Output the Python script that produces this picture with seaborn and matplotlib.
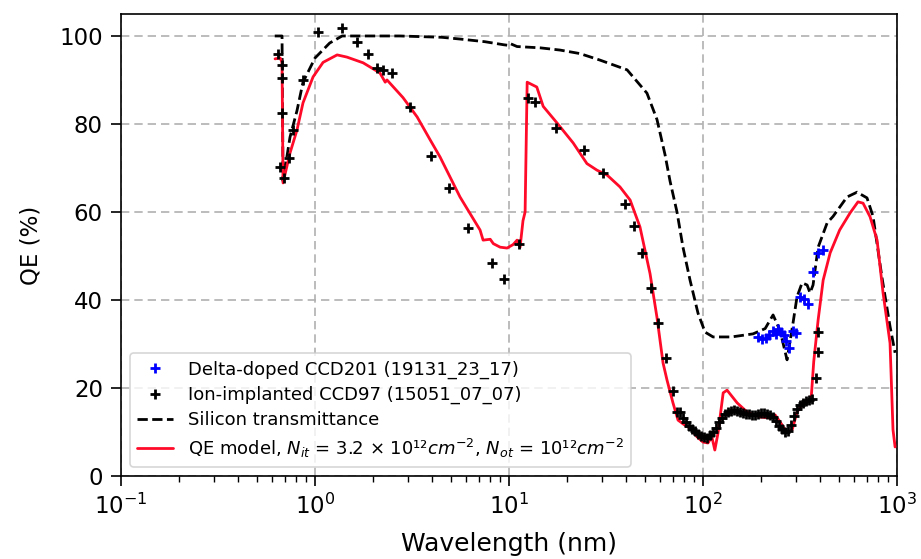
import numpy as np
import pandas as pd
import matplotlib
matplotlib.use("Agg")
import matplotlib.pyplot as plt
import seaborn as sns
from matplotlib.lines import Line2D

# ---------------- data ----------------
# Silicon transmittance (dashed)
si_wl = [0.62, 0.676, 0.684, 0.743, 0.807, 0.867, 1.0, 1.19, 1.38, 2.74, 4.5, 5.6, 7.5,
         9.4, 9.8, 10.1, 11.0, 14.5, 18.3, 23.2, 29.5, 40.6, 51.4, 57.9, 63.7, 67.6, 73.4,
         78.8, 85.7, 94.2, 102.4, 112.6, 140, 181, 209, 229.6, 249.5, 271, 291, 305, 324,
         344, 356, 369, 392, 436, 468, 552, 622, 700, 752, 837, 920, 977]
si_qe = [100, 100, 67, 77, 83, 89.5, 95, 98.4, 100, 100, 99.7, 99.3, 98.7,
         98.0, 97.9, 98.3, 97.6, 97.3, 96.8, 96.0, 94.5, 92.3, 87, 81, 73, 67, 60,
         52, 44.5, 37, 32.7, 31.6, 31.6, 32.3, 33.5, 36.6, 33, 26.4, 34.8, 40.7, 43.9,
         43.4, 41.6, 43.4, 52, 57.5, 59, 63.4, 64.5, 63.2, 59, 45, 34, 28]

# QE model (red)
model_wl = [0.622, 0.661, 0.676, 0.684, 0.743, 0.807, 0.867, 0.977, 1.10, 1.30, 1.46, 1.77,
            2.16, 2.30, 2.35, 2.84, 3.36, 3.92, 4.41, 5.59, 7.09, 7.35, 8.0, 8.3, 9.0, 9.77,
            10.5, 11.0, 11.4, 11.8, 12.1, 12.4, 13.9, 15.0, 17.7, 21.4, 25.2, 28.4, 32.0,
            37.3, 42.1, 47.3, 53.3, 57.9, 62.2, 65.2, 70.0, 74.3, 80.8, 85.7, 93.1, 100,
            106, 111, 115, 119.5, 127, 133, 150, 169, 197, 221, 235, 249.5, 271, 288, 305,
            328, 356, 362, 372, 392, 416, 452, 506, 573, 629, 668, 726, 789, 847, 920, 953, 977]
model_qe = [94.8, 95.0, 94.0, 66.6, 73.4, 78.6, 84.8, 90.7, 94.0, 95.7, 95.2, 93.9,
            91.6, 89.5, 90.0, 86.0, 81.6, 76.4, 72.5, 63.4, 55.9, 53.6, 53.8, 52.8, 52.0, 51.8,
            52.6, 53.6, 52.0, 58.0, 60.0, 89.5, 88.4, 84.0, 80.2, 75.7, 71.0, 69.5, 68.4,
            65.7, 62.7, 56.6, 46.0, 36.0, 25.7, 21.8, 16.6, 12.7, 11.5, 10.9, 8.9, 7.7,
            7.5, 8.9, 5.9, 9.8, 18.9, 19.5, 16.6, 14.5, 13.4, 13.2, 13.9, 12.3, 9.8, 10.5, 14.5,
            16.6, 17.3, 18.5, 26.0, 35.5, 44.5, 50.7, 55.9, 59.8, 62.3, 62.0, 58.9, 53.6, 41.6, 30.2, 10.5, 6.6]

# Ion-implanted CCD97 (black +)
ion_wl = [0.645, 0.676, 0.676, 0.676, 0.660, 0.692, 0.735, 0.770, 0.867, 1.036, 1.378, 1.646,
          1.876, 2.087, 2.241, 2.494, 3.088, 3.963, 4.907, 6.147, 8.172, 9.424, 11.26, 12.53,
          13.61, 17.47, 24.36, 30.51, 39.63, 44.10, 48.50, 53.95, 58.62, 64.46, 70.04, 73.45,
          76.1, 78.9, 81.7, 84.7, 87.8, 90.9, 94.2, 97.7, 101.2, 104.9, 108.7, 112.6, 116.7,
          120.9, 125.3, 129.8, 134.6, 139.4, 144.5, 149.7, 155.1, 160.8, 166.6, 172.6, 178.9,
          185.3, 192.0, 199.1, 206.2, 213.7, 221.5, 229.5, 237.8, 246.5, 255.4, 264.6, 274.2,
          284.1, 294.5, 305.1, 316.2, 327.7, 339.5, 351.9, 364.6, 380.0, 391.4, 391.4]
ion_qe = [96.0, 93.4, 90.5, 82.5, 70.2, 67.7, 72.3, 78.6, 90.0, 100.9, 101.8, 98.6,
          96.0, 92.7, 92.3, 91.6, 83.9, 72.7, 65.5, 56.4, 48.4, 44.8, 52.7, 85.9,
          85.0, 79.0, 74.0, 68.9, 61.8, 56.8, 50.7, 42.7, 34.8, 26.8, 19.3, 14.5,
          14.5, 13.2, 12.3, 11.4, 10.7, 10.2, 9.6, 9.1, 8.9, 8.6, 9.3, 10.0, 11.0,
          12.3, 13.2, 14.1, 14.5, 14.8, 15.0, 14.8, 14.5, 14.3, 14.1, 14.1, 13.9,
          13.9, 14.1, 14.3, 14.3, 14.1, 13.9, 13.4, 12.5, 11.4, 10.7, 10.0, 10.2,
          11.6, 13.6, 15.2, 16.1, 16.6, 17.0, 17.3, 17.5, 22.3, 28.2, 32.7]

# Delta-doped CCD201 (blue +)
dd_wl = [192.0, 201.4, 211.2, 218.9, 229.5, 237.8, 243.6, 252.4, 261.5, 267.8, 277.5,
         291.0, 301.6, 316.2, 331.6, 347.7, 369.0, 391.4, 415.6]
dd_qe = [31.6, 31.1, 31.4, 32.0, 33.0, 32.3, 33.4, 32.7, 32.0, 30.7, 29.1,
         33.0, 32.5, 40.7, 40.2, 39.2, 46.4, 50.7, 51.4]

labels = ["Delta-doped CCD201 (19131_23_17)",
          "Ion-implanted CCD97 (15051_07_07)",
          "Silicon transmittance",
          r"QE model, $N_{it}$ = 3.2 × 10¹²$cm^{-2}$, $N_{ot}$ = 10¹²$cm^{-2}$"]

RED = "#ff0a28"

# ---------------- plot ----------------
sns.set_style("white")
plt.rcParams["font.family"] = ["DejaVu Sans"]
plt.rcParams["text.color"] = "black"
plt.rcParams["axes.labelcolor"] = "black"
plt.rcParams["xtick.color"] = "black"
plt.rcParams["ytick.color"] = "black"

fig = plt.figure(figsize=(9.21, 5.59), dpi=100)
ax = fig.add_axes([0.1314, 0.1485, 0.8426, 0.8265])

si_df = pd.DataFrame({"wl": si_wl, "qe": si_qe})
mo_df = pd.DataFrame({"wl": model_wl, "qe": model_qe})
ion_df = pd.DataFrame({"wl": ion_wl, "qe": ion_qe})
dd_df = pd.DataFrame({"wl": dd_wl, "qe": dd_qe})

sns.lineplot(data=si_df, x="wl", y="qe", ax=ax, sort=False, color="black",
             linestyle="--", linewidth=2, zorder=3)
sns.lineplot(data=mo_df, x="wl", y="qe", ax=ax, sort=False, color=RED,
             linewidth=2, zorder=4)
sns.scatterplot(data=ion_df, x="wl", y="qe", ax=ax, marker="+", color="black",
                s=60, linewidth=2, zorder=5)
sns.scatterplot(data=dd_df, x="wl", y="qe", ax=ax, marker="+", color="blue",
                s=60, linewidth=2, zorder=6)

ax.set_xscale("log")
ax.set_xlim(0.1, 1000)
ax.set_ylim(0, 105)
ax.set_yticks([0, 20, 40, 60, 80, 100])

ax.grid(True, which="major", linestyle=(0, (5, 3)), color="#b0b0b0", linewidth=1.2)
ax.set_axisbelow(True)
for s in ax.spines.values():
    s.set_color("black")
    s.set_linewidth(1.2)

ax.tick_params(axis="both", which="major", direction="out", length=7, width=1.2,
               labelsize=16.5, pad=6, bottom=True, left=True, top=False, right=False)
ax.tick_params(axis="x", which="minor", direction="out", length=4, width=1,
               bottom=True, top=False)
ax.set_xlabel("Wavelength (nm)", fontsize=18, labelpad=9)
ax.set_ylabel("QE (%)", fontsize=16.5, labelpad=12)

handles = [
    Line2D([], [], marker="+", color="blue", linestyle="none", markersize=7, markeredgewidth=2),
    Line2D([], [], marker="+", color="black", linestyle="none", markersize=7, markeredgewidth=2),
    Line2D([], [], color="black", linestyle="--", linewidth=2),
    Line2D([], [], color=RED, linewidth=2),
]
leg = ax.legend(handles, labels, loc="lower left", fontsize=13, frameon=True,
                framealpha=0.8, edgecolor="#cccccc", bbox_to_anchor=(0.0, 0.0),
                borderaxespad=0.5, labelspacing=0.4, handlelength=2.0)
leg.get_frame().set_linewidth(1.2)

fig.savefig("out.png", dpi=100)
